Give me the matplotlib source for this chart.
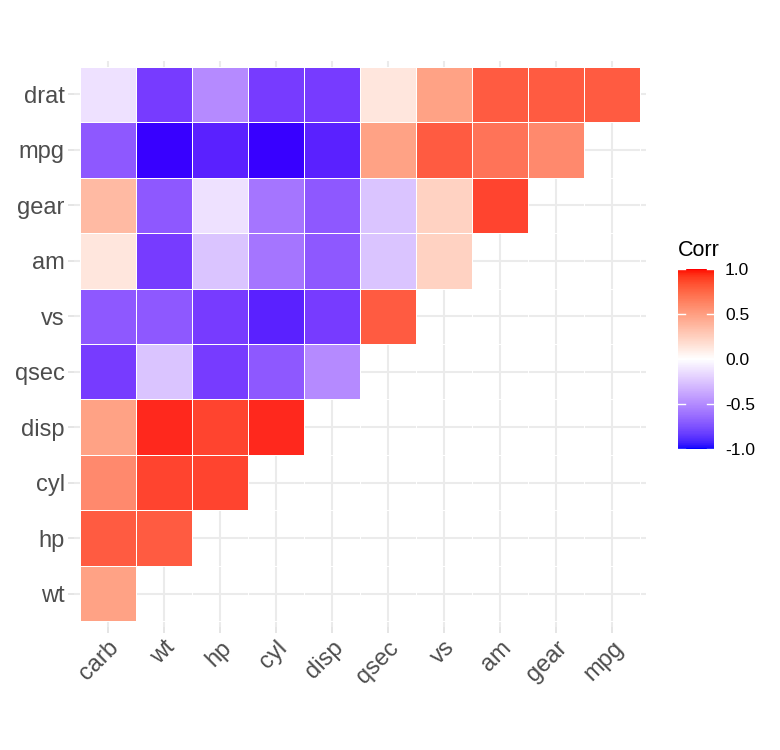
import numpy as np
import matplotlib
matplotlib.use('Agg')
import matplotlib.pyplot as plt
from matplotlib.colors import ListedColormap, LinearSegmentedColormap, to_rgb

plt.rcParams['font.family'] = ['Liberation Sans', 'DejaVu Sans']

# variables in clustered order (lower triangle of the mtcars correlation matrix)
x_labels = ['carb', 'wt', 'hp', 'cyl', 'disp', 'qsec', 'vs', 'am', 'gear', 'mpg']
y_labels = ['wt', 'hp', 'cyl', 'disp', 'qsec', 'vs', 'am', 'gear', 'mpg', 'drat']

# one list per row (bottom to top), values rounded to 1 decimal
r_wt   = [0.4]
r_hp   = [0.7, 0.7]
r_cyl  = [0.5, 0.8, 0.8]
r_disp = [0.4, 0.9, 0.8, 0.9]
r_qsec = [-0.7, -0.2, -0.7, -0.6, -0.4]
r_vs   = [-0.6, -0.6, -0.7, -0.8, -0.7, 0.7]
r_am   = [0.1, -0.7, -0.2, -0.5, -0.6, -0.2, 0.2]
r_gear = [0.3, -0.6, -0.1, -0.5, -0.6, -0.2, 0.2, 0.8]
r_mpg  = [-0.6, -0.9, -0.8, -0.9, -0.8, 0.4, 0.7, 0.6, 0.5]
r_drat = [-0.1, -0.7, -0.4, -0.7, -0.7, 0.1, 0.4, 0.7, 0.7, 0.7]
rows = [r_wt, r_hp, r_cyl, r_disp, r_qsec, r_vs, r_am, r_gear, r_mpg, r_drat]

legend_ticks = [-1.0, -0.5, 0.0, 0.5, 1.0]

# tile palette (blue - white - red), colours as they show on the tiles
pal_vals = [-1.0, -0.9, -0.8, -0.7, -0.6, -0.5, -0.4, -0.2, -0.1, 0.0,
            0.1, 0.2, 0.3, 0.4, 0.5, 0.6, 0.7, 0.8, 0.9, 1.0]
pal_cols = ['#0000FF', '#3C00FF', '#5B22FF', '#783CFF', '#8E58FF', '#A575FF',
            '#B68BFF', '#DAC4FF', '#EEE0FF', '#FFFFFF', '#FFE6DC', '#FFD2C2',
            '#FFBAA4', '#FFA386', '#FF8A6E', '#FF7358', '#FF5B41', '#FF4530',
            '#FF2A1F', '#FF0000']
tile_cmap = LinearSegmentedColormap.from_list(
    'corr', [((v + 1) / 2, c) for v, c in zip(pal_vals, pal_cols)])

# --- Lab colour ramp for the legend bar ---
M = np.array([[0.4124564, 0.3575761, 0.1804375],
              [0.2126729, 0.7151522, 0.0721750],
              [0.0193339, 0.1191920, 0.9503041]])
WHITE = np.array([0.95047, 1.0, 1.08883])
d = 6 / 29


def to_lab(c):
    rgb = np.array(to_rgb(c))
    lin = np.where(rgb <= 0.04045, rgb / 12.92, ((rgb + 0.055) / 1.055) ** 2.4)
    t = (M @ lin) / WHITE
    f = np.where(t > d ** 3, np.cbrt(t), t / (3 * d ** 2) + 4 / 29)
    return np.array([116 * f[1] - 16, 500 * (f[0] - f[1]), 200 * (f[1] - f[2])])


def from_lab(lab):
    L, a, b = lab
    fy = (L + 16) / 116
    f = np.array([fy + a / 500, fy, fy - b / 200])
    t = np.where(f > d, f ** 3, 3 * d ** 2 * (f - 4 / 29))
    lin = np.clip(np.linalg.inv(M) @ (t * WHITE), 0, 1)
    rgb = np.where(lin <= 0.0031308, 12.92 * lin, 1.055 * lin ** (1 / 2.4) - 0.055)
    return np.clip(rgb, 0, 1)


lo, mid, hi = to_lab('blue'), to_lab('white'), to_lab('red')
cols = []
for p in np.linspace(0, 1, 256):
    if p <= 0.5:
        lab = lo + (mid - lo) * (p / 0.5)
    else:
        lab = mid + (hi - mid) * ((p - 0.5) / 0.5)
    cols.append(from_lab(lab))
bar_cmap = ListedColormap(cols)

# --- matrix ---
n = len(x_labels)
mat = np.full((n, n), np.nan)
for i, row in enumerate(rows):
    for j, v in enumerate(row):
        mat[i, j] = v
mat = np.ma.masked_invalid(mat)

fig = plt.figure(figsize=(7.8, 7.5), dpi=100)
ax = fig.add_axes([74.4 / 780, 1 - 627 / 750, 571.2 / 780, 566 / 750])

ax.set_axisbelow(True)
ax.grid(True, color='#EBEBEB', linewidth=1.5)
mesh = ax.pcolormesh(np.arange(n + 1) - 0.5, np.arange(n + 1) - 0.5, mat,
                     cmap=tile_cmap, vmin=-1, vmax=1, edgecolor='white', linewidth=0.6)
ax.set_xlim(-0.6, n - 0.4)
ax.set_ylim(-0.6, n - 0.4)
for s in ax.spines.values():
    s.set_visible(False)

ax.set_xticks(range(n))
ax.set_xticklabels(x_labels, rotation=45, ha='right', va='top', rotation_mode='anchor')
ax.set_yticks(range(n))
ax.set_yticklabels(y_labels)
ax.tick_params(axis='both', length=4, width=1.2, color='#E0E0E0',
               labelsize=17, labelcolor='#4D4D4D', pad=3)

# legend
cax = fig.add_axes([678 / 780, 1 - 449 / 750, 36 / 780, 180 / 750])
sm = plt.cm.ScalarMappable(cmap=bar_cmap, norm=plt.Normalize(-1, 1))
cb = fig.colorbar(sm, cax=cax, ticks=legend_ticks)
cb.outline.set_visible(False)
cb.ax.set_yticklabels(['%.1f' % t for t in legend_ticks])
cb.ax.tick_params(length=0, labelsize=12.5, pad=8, labelcolor='black')
for t in legend_ticks:
    cb.ax.axhline(t, xmin=0, xmax=0.2, color='white', linewidth=1)
    cb.ax.axhline(t, xmin=0.8, xmax=1, color='white', linewidth=1)
fig.text(678 / 780, 1 - 251 / 750, 'Corr', fontsize=15.5, va='center', ha='left')

fig.savefig('out.png', dpi=100, facecolor='white')
